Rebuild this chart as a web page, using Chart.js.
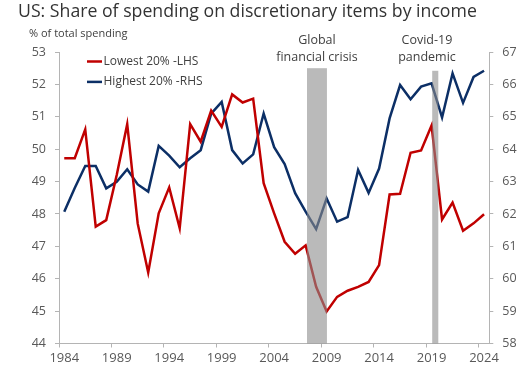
<!DOCTYPE html>
<html><head><meta charset="utf-8">
<script src="https://cdn.jsdelivr.net/npm/chart.js@4.4.1/dist/chart.umd.min.js"></script>
<style>
html,body{margin:0;padding:0;background:#fff;}
#wrap{position:relative;width:528px;height:381px;overflow:hidden;}
canvas{position:absolute;left:0;top:0;}
.t{position:absolute;font-family:"Open Sans",sans-serif;white-space:nowrap;line-height:1;}
</style></head><body>
<div id="wrap">
<canvas id="c" width="528" height="381"></canvas>
<div class="t" id="title" style="left:18px;top:1.5px;font-size:17.7px;color:#333333">US: Share of spending on discretionary items by income</div>
<div class="t" id="sub" style="left:29px;top:27px;font-size:11px;color:#404040">% of total spending</div>
</div>
<script>
const years = ['1984','1985','1986','1987','1988','1989','1990','1991','1992','1993','1994','1995','1996','1997','1998','1999','2000','2001','2002','2003','2004','2005','2006','2007','2008','2009','2010','2011','2012','2013','2014','2015','2016','2017','2018','2019','2020','2021','2022','2023','2024'];
const lowest20 = [49.72,49.72,50.61,47.61,47.81,49.2,50.77,47.7,46.19,48.02,48.82,47.56,50.77,50.23,51.19,50.69,51.69,51.44,51.56,48.95,48.02,47.14,46.77,47.03,45.75,44.99,45.44,45.63,45.75,45.9,46.42,48.6,48.62,49.89,49.96,50.73,47.83,48.35,47.48,47.71,47.99];
const highest20 = [62.07,62.8,63.48,63.48,62.79,62.99,63.38,62.91,62.69,64.1,63.8,63.44,63.72,63.97,65.1,65.46,63.97,63.56,63.84,65.1,64.06,63.54,62.64,62.07,61.53,62.48,61.76,61.9,63.36,62.65,63.4,64.95,65.98,65.54,65.93,66.03,64.98,66.34,65.43,66.23,66.42];
const seriesNames = ['Lowest 20% -LHS','Highest 20% -RHS'];
const leftTicks = [44,53];
const rightTicks = [58,67];
const shadedPeriods = [
  {start:2007.13, end:2009.03, top:52.5},
  {start:2019.06, end:2019.64, top:52.42}
];
const periodLabels = [
  {lines:['Global','financial crisis'], year:2008.08},
  {lines:['Covid-19','pandemic'], year:2018.56}
];

const FONT = '"Open Sans", sans-serif';
const AXIS = '#b4b4b4';
const TXT = '#595959';

const yearIdx = y => y - Number(years[0]);

const bandPlugin = {
  id:'bands',
  afterDatasetsDraw(chart){
    const {ctx, scales:{x,y}, chartArea} = chart;
    ctx.save();
    ctx.fillStyle = 'rgba(140,140,140,0.6)';
    shadedPeriods.forEach(p=>{
      const x0 = x.getPixelForValue(yearIdx(p.start));
      const x1 = x.getPixelForValue(yearIdx(p.end));
      const yt = y.getPixelForValue(p.top);
      ctx.fillRect(x0, yt, x1-x0, chartArea.bottom-yt);
    });
    ctx.restore();
  }
};

const labelPlugin = {
  id:'labels',
  afterDraw(chart){
    const {ctx, scales:{x}} = chart;
    ctx.save();
    ctx.font = '12.5px ' + FONT;
    ctx.fillStyle = '#404040';
    ctx.textAlign = 'center';
    ctx.textBaseline = 'middle';
    periodLabels.forEach(a=>{
      const cx = x.getPixelForValue(yearIdx(a.year));
      a.lines.forEach((t,i)=>ctx.fillText(t, cx, 40 + i*17));
    });
    ctx.textAlign = 'left';
    ctx.font = '12px ' + FONT;
    chart.data.datasets.forEach((ds,i)=>{
      const yy = 61.5 + i*20.4;
      ctx.strokeStyle = ds.borderColor;
      ctx.lineWidth = 2.5;
      ctx.beginPath(); ctx.moveTo(87, yy); ctx.lineTo(102, yy); ctx.stroke();
      ctx.fillStyle = '#404040';
      ctx.fillText(ds.label, 103.5, yy);
    });
    ctx.restore();
  }
};

const yAxis = (pos, mm, w) => ({
  position: pos, min: mm[0], max: mm[1],
  ticks:{stepSize:1, color:TXT, padding:9, font:{family:FONT, size:12.5}},
  grid:{drawOnChartArea:false, tickLength:4, color:AXIS},
  border:{color:AXIS, width:1},
  afterFit: s => { s.width = w; }
});

new Chart(document.getElementById('c'), {
  type:'line',
  data:{
    labels: years,
    datasets:[
      {label:seriesNames[0], data:lowest20, yAxisID:'y', borderColor:'#c00000', borderWidth:2.5, pointRadius:0, tension:0},
      {label:seriesNames[1], data:highest20, yAxisID:'y1', borderColor:'#0c2f66', borderWidth:2.5, pointRadius:0, tension:0}
    ]
  },
  options:{
    responsive:false, animation:false, devicePixelRatio:1,
    layout:{padding:{top:52, left:0, right:0, bottom:0}},
    plugins:{legend:{display:false}, title:{display:false}, tooltip:{enabled:false}},
    scales:{
      x:{
        type:'category', offset:true,
        grid:{offset:true, drawOnChartArea:false, tickLength:4,
          color: c => (c.index % 5 === 0 && c.index < years.length) ? AXIS : 'rgba(0,0,0,0)'},
        border:{color:AXIS, width:1},
        ticks:{autoSkip:false, maxRotation:0, minRotation:0, padding:3, color:TXT,
          font:{family:FONT, size:13},
          callback:(v,i)=> i % 5 === 0 ? years[i] : ''},
        afterFit: s => { s.height = 37.5; }
      },
      y: yAxis('left', leftTicks, 59),
      y1: yAxis('right', rightTicks, 38.7)
    }
  },
  plugins:[bandPlugin, labelPlugin]
});
</script>
</body></html>
